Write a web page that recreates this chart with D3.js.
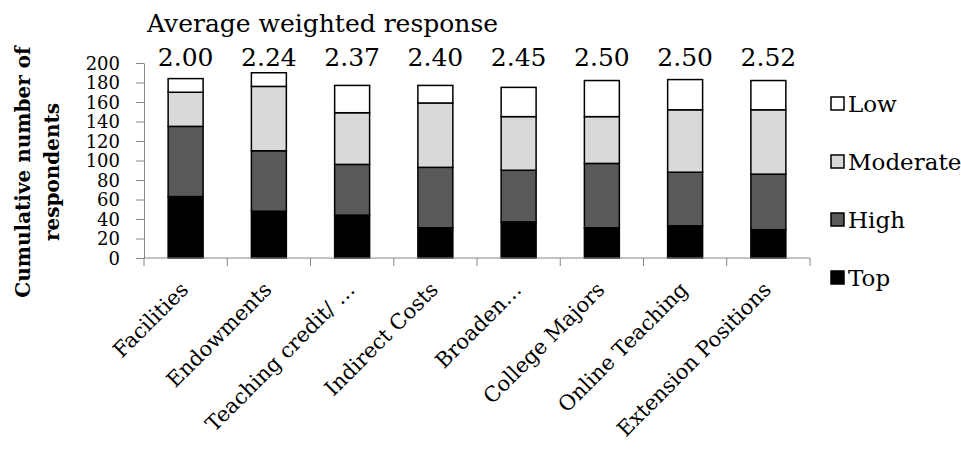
<!DOCTYPE html>
<html>
<head>
<meta charset="utf-8">
<script src="https://cdn.jsdelivr.net/npm/d3@7"></script>
<style>
  body { margin: 0; background: #fff; }
  text { font-family: "DejaVu Serif", "Liberation Serif", serif; fill: #000; }
</style>
</head>
<body>
<div id="chart"></div>
<script>
// Chart data
const categories = ['Facilities', 'Endowments', 'Teaching credit/ …', 'Indirect Costs',
  'Broaden…', 'College Majors', 'Online Teaching', 'Extension Positions'];
const averages = ['2.00', '2.24', '2.37', '2.40', '2.45', '2.50', '2.50', '2.52'];
const seriesNames = ['Top', 'High', 'Moderate', 'Low'];
const topVals = [63, 48, 44, 31, 37, 31, 33, 29];
const highVals = [72, 62, 52, 62, 53, 66, 55, 57];
const moderateVals = [35, 66, 53, 66, 55, 48, 64, 66];
const lowVals = [14, 14, 28, 18, 30, 37, 31, 30];
const yTicks = [0, 20, 40, 60, 80, 100, 120, 140, 160, 180, 200];

const colors = { Top: '#000000', High: '#595959', Moderate: '#d9d9d9', Low: '#ffffff' };

const width = 961, height = 450;
const margin = { left: 144, right: 151, top: 63, bottom: 192 };

const svg = d3.select('#chart').append('svg')
  .attr('width', width)
  .attr('height', height);

// Build table for the stack layout
const table = categories.map((c, i) => ({
  cat: c, Top: topVals[i], High: highVals[i], Moderate: moderateVals[i], Low: lowVals[i]
}));
const stacked = d3.stack().keys(seriesNames)(table);

const x = d3.scaleBand()
  .domain(categories)
  .range([margin.left, width - margin.right])
  .paddingInner(0.58)
  .paddingOuter(0.29);

const y = d3.scaleLinear()
  .domain([0, 200])
  .range([height - margin.bottom, margin.top]);

// Bars
svg.append('g').selectAll('g')
  .data(stacked)
  .enter()
  .append('g')
  .style('fill', d => colors[d.key])
  .selectAll('rect')
  .data(d => d)
  .enter()
  .append('rect')
  .attr('x', d => x(d.data.cat))
  .attr('y', d => y(d[1]))
  .attr('width', x.bandwidth())
  .attr('height', d => y(d[0]) - y(d[1]))
  .style('stroke', '#000')
  .style('stroke-width', 1.5);

// Y axis
const yAxis = svg.append('g')
  .attr('transform', `translate(${margin.left},0)`)
  .call(d3.axisLeft(y).tickValues(yTicks).tickSize(8).tickPadding(16).tickSizeOuter(0));
yAxis.select('.domain').attr('stroke', '#868686');
yAxis.selectAll('.tick line').attr('stroke', '#868686');
yAxis.selectAll('.tick text').style('font-size', '18px').attr('dy', '0.36em');

// X axis with ticks at category boundaries
const xAxisG = svg.append('g')
  .attr('transform', `translate(0,${y(0)})`);
xAxisG.append('line')
  .attr('x1', margin.left).attr('x2', width - margin.right)
  .attr('stroke', '#868686');
const bounds = d3.range(categories.length + 1).map(i => margin.left + i * (width - margin.left - margin.right) / categories.length);
xAxisG.selectAll('.bound')
  .data(bounds)
  .enter()
  .append('line')
  .attr('x1', d => d).attr('x2', d => d)
  .attr('y1', 0).attr('y2', 8)
  .attr('stroke', '#868686');

// Category labels rotated
svg.append('g').selectAll('text')
  .data(categories)
  .enter()
  .append('text')
  .attr('transform', d => `translate(${x(d) + x.bandwidth() / 2 + 4},${y(0) + 33}) rotate(-45)`)
  .style('text-anchor', 'end')
  .style('font-size', '21px')
  .text(d => d);

// Average labels above bars
svg.append('g').selectAll('text')
  .data(categories)
  .enter()
  .append('text')
  .attr('x', d => x(d) + x.bandwidth() / 2)
  .attr('y', 66)
  .style('text-anchor', 'middle')
  .style('font-size', '25px')
  .text((d, i) => averages[i]);

svg.append('text')
  .attr('x', 147)
  .attr('y', 32)
  .style('font-size', '25px')
  .text('Average weighted response');

// Y axis title
const yTitle = svg.append('text')
  .attr('transform', 'translate(0,172) rotate(-90)')
  .style('text-anchor', 'middle')
  .style('font-size', '20px')
  .style('font-weight', 'bold');
yTitle.append('tspan').attr('x', 0).attr('y', 30).text('Cumulative number of');
yTitle.append('tspan').attr('x', 0).attr('y', 59).text('respondents');

// Legend
const legendNames = seriesNames.slice().reverse();
const legend = svg.append('g').selectAll('g')
  .data(legendNames)
  .enter()
  .append('g')
  .attr('transform', (d, i) => `translate(831,${104 + i * 58})`);
legend.append('rect')
  .attr('x', 0).attr('y', -7)
  .attr('width', 13).attr('height', 13)
  .style('fill', d => colors[d])
  .style('stroke', '#000')
  .style('stroke-width', 1.5);
legend.append('text')
  .attr('x', 17)
  .attr('dy', '0.36em')
  .style('font-size', '23px')
  .text(d => d);
</script>
</body>
</html>
